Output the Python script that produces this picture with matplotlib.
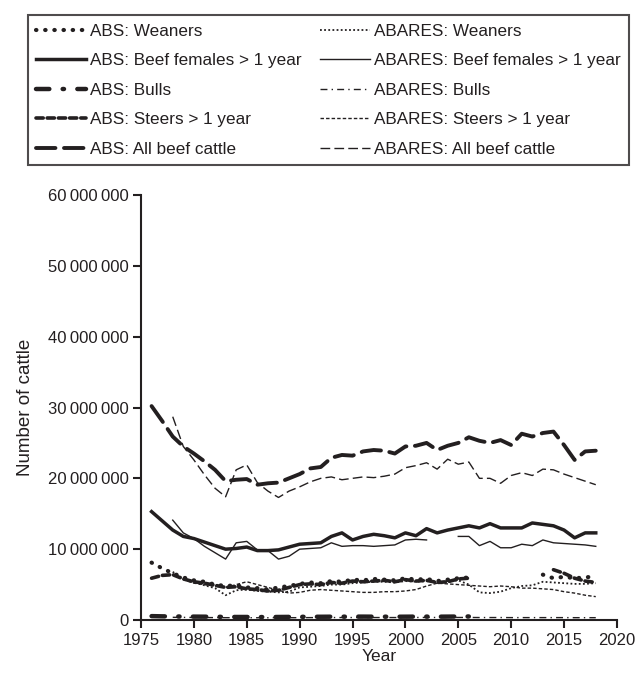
import numpy as np
import matplotlib
matplotlib.use("Agg")
import matplotlib.pyplot as plt
from matplotlib.ticker import FuncFormatter

plt.rcParams['font.family'] = ['Liberation Sans', 'DejaVu Sans']

nan = np.nan
years = list(range(1976, 2019))

# values in millions of head (nan = no data)
abs_weaners = [8.1, 7.3, 6.6, 6.0, 5.6, 5.4, 5.0, 4.8, 4.9, 4.6,
               4.5, 4.3, 4.6, 4.8, 5.1, 5.3, 5.2, 5.5, 5.4, 5.7,
               5.6, 5.8, 5.7, 5.6, 5.9, 5.7, 5.8, 5.5, 5.7, 5.9,
               6.0, nan, nan, nan, nan, nan, nan, 6.4, 5.9, 6.1,
               5.9, 6.0, 6.2]
abares_weaners = [nan, nan, 6.8, 5.8, 5.3, 4.9, 4.5, 3.5, 4.2, 4.3,
                  4.1, 4.0, 3.9, 4.0, 4.6, 4.7, 4.8, 5.0, 5.0, 5.2,
                  5.3, 5.4, 5.4, 5.3, 5.5, 5.4, 5.5, 5.3, 5.5, 5.6,
                  5.0, 3.9, 3.8, 4.0, 4.5, 4.8, 4.9, 5.4, 5.3, 5.2,
                  5.1, 5.1, 5.2]
abs_females = [15.3, 14.0, 12.7, 11.8, 11.5, 11.0, 10.5, 10.0, 10.1, 10.3,
               9.8, 9.8, 9.9, 10.3, 10.7, 10.8, 10.9, 11.8, 12.3, 11.3,
               11.8, 12.1, 11.9, 11.6, 12.3, 11.9, 12.9, 12.3, 12.7, 13.0,
               13.3, 13.0, 13.6, 13.0, 13.0, 13.0, 13.7, 13.5, 13.3, 12.7,
               11.6, 12.3, 12.3]
abares_females = [nan, nan, 14.1, 12.3, 11.5, 10.4, 9.5, 8.6, 10.9, 11.1,
                  9.9, 9.8, 8.6, 9.0, 10.0, 10.1, 10.2, 10.9, 10.4, 10.5,
                  10.5, 10.4, 10.5, 10.6, 11.3, 11.4, 11.3, nan, nan, 11.8,
                  11.8, 10.5, 11.1, 10.2, 10.2, 10.7, 10.5, 11.3, 10.9, 10.8,
                  10.7, 10.6, 10.4]
abs_bulls = [0.55, 0.52, 0.50, 0.49, 0.48, 0.47, 0.46, 0.44, 0.43, 0.43,
             0.42, 0.42, 0.43, 0.44, 0.45, 0.46, 0.46, 0.47, 0.47, 0.48,
             0.48, 0.47, 0.47, 0.46, 0.47, 0.48, 0.48, 0.47, 0.48, 0.49,
             0.50, nan, nan, nan, nan, nan, nan, nan, nan, nan,
             nan, nan, nan]
abares_bulls = [nan, nan, 0.38, 0.37, 0.36, 0.35, 0.34, 0.33, 0.33, 0.33,
                0.32, 0.32, 0.32, 0.33, 0.33, 0.34, 0.34, 0.35, 0.35, 0.35,
                0.35, 0.35, 0.35, 0.35, 0.35, 0.36, 0.36, 0.36, 0.36, 0.36,
                0.36, 0.35, 0.35, 0.35, 0.34, 0.34, 0.34, 0.34, 0.34, 0.34,
                0.33, 0.33, 0.33]
abs_steers = [5.9, 6.3, 6.4, 5.8, 5.4, 5.2, 4.9, 4.6, 4.7, 4.4,
              4.3, 4.1, 4.2, 4.6, 5.0, 5.1, 5.0, 5.3, 5.2, 5.5,
              5.4, 5.5, 5.6, 5.4, 5.7, 5.5, 5.6, 5.3, 5.4, 5.8,
              5.9, nan, nan, nan, nan, nan, nan, nan, 7.1, 6.6,
              5.9, 5.5, 5.3]
abares_steers = [nan, nan, 6.5, 5.7, 5.2, 5.0, 4.8, 4.6, 5.0, 5.4,
                 5.0, 4.6, 4.2, 3.8, 3.9, 4.2, 4.3, 4.2, 4.1, 4.0,
                 3.9, 3.9, 4.0, 4.0, 4.1, 4.3, 4.8, 5.2, 5.1, 5.0,
                 4.9, 4.8, 4.7, 4.8, 4.7, 4.5, 4.5, 4.4, 4.3, 4.0,
                 3.8, 3.5, 3.3]
abs_all = [30.2, 28.1, 25.9, 24.5, 23.5, 22.4, 21.2, 19.6, 19.8, 19.9,
           19.1, 19.3, 19.4, 20.0, 20.6, 21.4, 21.6, 22.9, 23.3, 23.2,
           23.8, 24.0, 23.9, 23.5, 24.5, 24.6, 25.0, 24.0, 24.6, 25.0,
           25.8, 25.3, 25.0, 25.4, 24.7, 26.3, 25.9, 26.4, 26.6, 24.7,
           22.6, 23.8, 23.9]
abares_all = [nan, nan, 28.7, 24.5, 22.6, 20.5, 18.6, 17.4, 21.2, 21.9,
              19.4, 18.2, 17.3, 18.2, 18.8, 19.5, 20.0, 20.2, 19.8, 20.0,
              20.2, 20.1, 20.3, 20.6, 21.5, 21.8, 22.2, 21.3, 22.7, 22.0,
              22.3, 20.0, 20.0, 19.3, 20.4, 20.8, 20.4, 21.3, 21.2, 20.6,
              20.1, 19.6, 19.1]

ink = '#231f20'

fig = plt.figure(figsize=(6.36, 6.74), dpi=100)
ax = fig.add_axes([0.2217, 0.0801, 0.7483, 0.6306])

def mil(vals):
  return np.array(vals) * 1e6

#series in legend order: (values, label, linewidth, dash pattern, round caps)
series = [
  (abs_weaners, 'ABS: Weaners', 3.0, (0, (0.1, 2.1)), True),
  (abares_weaners, 'ABARES: Weaners', 1.3, (0, (1, 1.3)), False),
  (abs_females, 'ABS: Beef females > 1 year', 2.5, '-', False),
  (abares_females, 'ABARES: Beef females > 1 year', 1.0, '-', False),
  (abs_bulls, 'ABS: Bulls', 3.2, (0, (3, 3, 0.3, 3)), True),
  (abares_bulls, 'ABARES: Bulls', 1.0, (0, (5, 3, 1, 3)), False),
  (abs_steers, 'ABS: Steers > 1 year', 2.6, (0, (2, 1.1)), True),
  (abares_steers, 'ABARES: Steers > 1 year', 1.0, (0, (2.5, 1.5)), False),
  (abs_all, 'ABS: All beef cattle', 2.8, (0, (5, 2.2)), True),
  (abares_all, 'ABARES: All beef cattle', 1.0, (0, (7, 3)), False),
]

handles = []
for vals, label, lw, ls, rnd in series:
  ln, = ax.plot(years, mil(vals), color=ink, lw=lw, linestyle=ls,
                dash_capstyle='round' if rnd else 'butt', label=label)
  handles.append(ln)

ax.set_xlim(1975, 2020)
ax.set_ylim(0, 60e6)
ax.set_xticks(range(1975, 2021, 5))
ax.set_yticks(np.arange(0, 60e6 + 1, 10e6))
ax.yaxis.set_major_formatter(FuncFormatter(lambda v, p: f"{int(v):,}".replace(",", "\u2009")))

for s in ['top', 'right']:
  ax.spines[s].set_visible(False)
for s in ['left', 'bottom']:
  ax.spines[s].set_linewidth(1.5)
  ax.spines[s].set_color(ink)
ax.tick_params(direction='out', length=6, width=1.5, color=ink,
               labelsize=12, labelcolor=ink, pad=3)

ax.set_xlabel('Year', fontsize=12.5, color=ink, labelpad=1)
ax.set_ylabel('Number of cattle', fontsize=13.5, color=ink, labelpad=10)

#reorder so two legend columns read ABS | ABARES
order = [0, 2, 4, 6, 8, 1, 3, 5, 7, 9]
leg = fig.legend([handles[i] for i in order], [series[i][1] for i in order],
                 loc='upper center', bbox_to_anchor=(0.5165, 0.9777), ncol=2,
                 fontsize=12.3, frameon=True, fancybox=False, edgecolor=ink,
                 handlelength=2.9, handletextpad=0.25, columnspacing=1.1,
                 labelspacing=0.85, borderpad=0.5, borderaxespad=0)
leg.get_frame().set_linewidth(1.5)
for t in leg.get_texts():
  t.set_color(ink)

fig.savefig('out.png', dpi=100)
